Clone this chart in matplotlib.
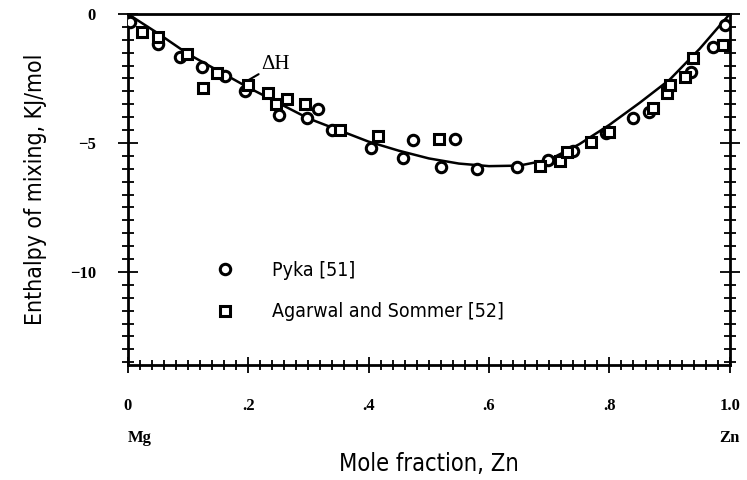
import matplotlib
matplotlib.use("Agg")
import matplotlib.pyplot as plt
from matplotlib.ticker import MultipleLocator, FixedLocator

# calculated enthalpy of mixing curve
curve_x = [0, .05, .1, .15, .2, .25, .3, .35, .4, .45, .5, .55, .6, .65, .7, .75, .8, .85, .9, .95, 1.0]
curve_y = [0, -0.75, -1.55, -2.2, -2.85, -3.45, -4.05, -4.5, -4.95, -5.3, -5.6, -5.8, -5.9, -5.88,
           -5.65, -5.05, -4.3, -3.45, -2.55, -1.35, 0]

# Pyka [51]
pyka_x = [0.003, 0.05, 0.086, 0.123, 0.161, 0.195, 0.252, 0.297, 0.316, 0.339, 0.404, 0.473, 0.457,
          0.52, 0.543, 0.58, 0.646, 0.698, 0.739, 0.795, 0.839, 0.866, 0.897, 0.936, 0.972, 0.992]
pyka_y = [-0.31, -1.16, -1.66, -2.05, -2.4, -3.0, -3.9, -4.02, -3.67, -4.49, -5.2, -4.87, -5.6,
          -5.93, -4.83, -6.03, -5.95, -5.65, -5.3, -4.6, -4.03, -3.8, -2.87, -2.24, -1.28, -0.43]

# Agarwal and Sommer [52]
agarwal_x = [0.023, 0.05, 0.098, 0.125, 0.148, 0.2, 0.233, 0.247, 0.264, 0.294, 0.352, 0.415, 0.517,
             0.684, 0.718, 0.73, 0.77, 0.8, 0.872, 0.895, 0.9, 0.925, 0.939, 0.988]
agarwal_y = [-0.7, -0.9, -1.56, -2.87, -2.3, -2.75, -3.06, -3.5, -3.28, -3.48, -4.49, -4.75, -4.83,
             -5.9, -5.7, -5.35, -4.97, -4.57, -3.63, -3.05, -2.75, -2.44, -1.7, -1.2]

xticks = [0, .2, .4, .6, .8, 1.0]
xtick_labels = ['0', '.2', '.4', '.6', '.8', '1.0']
yticks = [0, -5, -10]
ytick_labels = ['0', '\u22125', '\u221210']

narrow = dict(family=['Liberation Sans Narrow', 'DejaVu Sans'], fontstretch='condensed')
serif_bold = dict(family=['Liberation Serif', 'DejaVu Serif'], fontweight='bold')

fig = plt.figure(figsize=(7.47, 4.8), dpi=100)
ax = fig.add_axes([0.171, 0.24, 0.806, 0.731])

ax.plot(curve_x, curve_y, '-', color='black', lw=1.8, zorder=2)
ax.plot(pyka_x, pyka_y, 'o', ms=7.5, mfc='white', mec='black', mew=2.2, zorder=3,
        label='Pyka [51]')
ax.plot(agarwal_x, agarwal_y, 's', ms=6.5, mfc='white', mec='black', mew=2.2, zorder=3,
        label='Agarwal and Sommer [52]')

ax.annotate('\u0394H', xy=(0.198, -2.6), xytext=(0.222, -1.95), fontsize=15,
            family=['Liberation Serif', 'DejaVu Serif'], va='center', ha='left',
            arrowprops=dict(arrowstyle='-', color='black', lw=1.5, shrinkA=0, shrinkB=0))

ax.set_xlim(0, 1.0)
ax.set_ylim(-13.6, 0)

ax.xaxis.set_major_locator(FixedLocator(xticks))
ax.set_xticklabels(xtick_labels, **serif_bold, fontsize=12)
ax.xaxis.set_minor_locator(MultipleLocator(0.02))
ax.yaxis.set_major_locator(FixedLocator(yticks))
ax.set_yticklabels(ytick_labels, **serif_bold, fontsize=12)
ax.yaxis.set_minor_locator(MultipleLocator(0.5))

ax.tick_params(axis='both', which='both', direction='inout', color='black', width=1.3)
ax.tick_params(axis='x', which='major', length=12, pad=18)
ax.tick_params(axis='x', which='minor', length=7)
ax.tick_params(axis='y', which='major', length=14, pad=16, right=True)
ax.tick_params(axis='y', which='minor', length=8, right=True)

for sp in ax.spines.values():
    sp.set_linewidth(2)

ax.set_xlabel('Mole fraction, Zn', **narrow, fontsize=17, labelpad=27)
ax.set_ylabel('Enthalpy of mixing, KJ/mol', **narrow, fontsize=16.5, labelpad=16)

ax.text(0.0, -0.21, 'Mg', transform=ax.transAxes, ha='left', va='center', fontsize=12, **serif_bold)
ax.text(1.0, -0.21, 'Zn', transform=ax.transAxes, ha='center', va='center', fontsize=12, **serif_bold)

ax.legend(loc='lower left', bbox_to_anchor=(0.1, 0.074), frameon=False,
          prop=dict(family=narrow['family'], stretch='condensed', size=14),
          handletextpad=1.4, labelspacing=1.15, markerscale=1.0)

fig.savefig('out.png', dpi=100)
